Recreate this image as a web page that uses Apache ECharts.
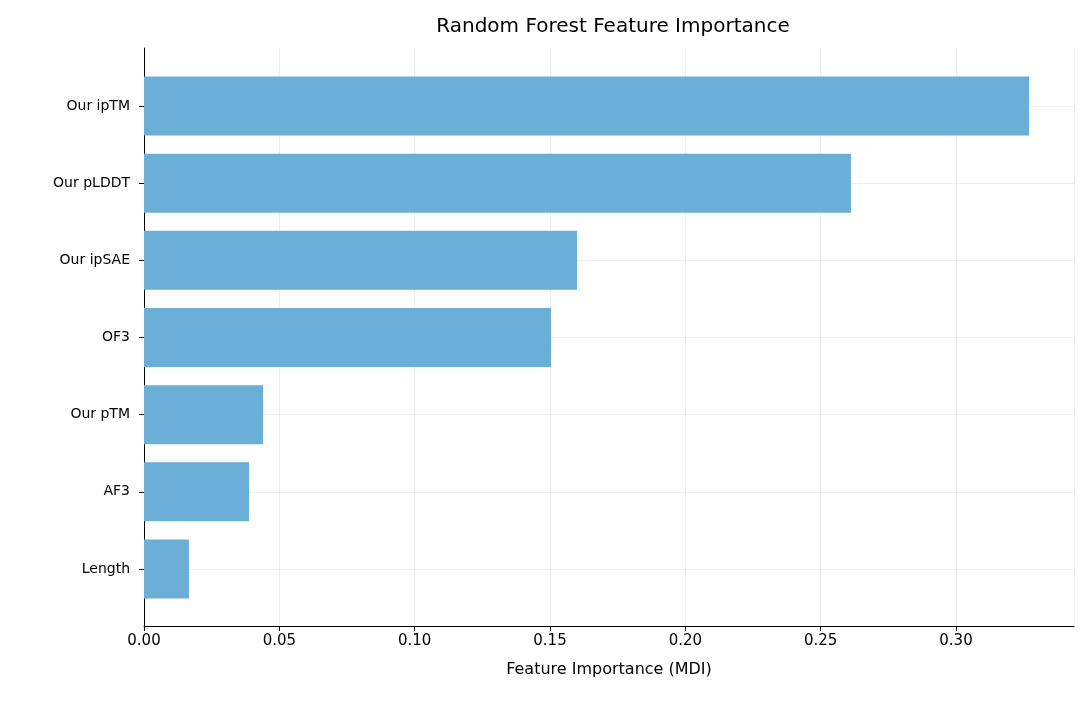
<!DOCTYPE html><html><head><meta charset="utf-8"><script src="https://cdn.jsdelivr.net/npm/echarts@6/dist/echarts.min.js"></script></head><body style="margin:0"><div id="c" style="width:1088px;height:710px"></div><script>
const categories=["Length","AF3","Our pTM","OF3","Our ipSAE","Our pLDDT","Our ipTM"];
const values=[0.0166,0.0388,0.044,0.1504,0.160,0.2612,0.327];
const xTicks=[0,0.05,0.10,0.15,0.20,0.25,0.30];
const ch=echarts.init(document.getElementById('c'));
const f='DejaVu Sans';
ch.setOption({animation:false,
title:{text:'Random Forest Feature Importance',left:608,top:12,textAlign:'center',textStyle:{fontFamily:f,fontSize:20,fontWeight:'normal',color:'#000'}},
grid:[{left:144,right:14,top:48,bottom:84},{left:144,right:14,top:106,bottom:141}],
xAxis:[{gridIndex:0,type:'value',min:0,max:0.3436,interval:0.05,name:'Feature Importance (MDI)',nameLocation:'middle',nameGap:36,nameTextStyle:{fontFamily:f,fontSize:16,color:'#000'},
axisLine:{show:true,lineStyle:{color:'#000'}},axisTick:{show:true,length:5,lineStyle:{color:'#000'}},
axisLabel:{fontFamily:f,fontSize:15,color:'#000',formatter:v=>xTicks.some(t=>Math.abs(t-v)<1e-9)?v.toFixed(2):'' ,showMaxLabel:false},
splitLine:{show:true,lineStyle:{color:'#ececec'}}},
{gridIndex:1,type:'value',min:0,max:0.3436,show:false}],
yAxis:[{gridIndex:0,type:'value',min:0,max:1,axisLine:{show:true,lineStyle:{color:'#000'}},axisTick:{show:false},axisLabel:{show:false},splitLine:{show:false}},
{gridIndex:1,type:'category',data:categories,boundaryGap:false,axisLine:{show:false},axisTick:{show:true,length:5,lineStyle:{color:'#000'}},
axisLabel:{fontFamily:f,fontSize:14,color:'#000',margin:14},splitLine:{show:true,lineStyle:{color:'#f0f0f0'}}}],
series:[{type:'bar',xAxisIndex:1,yAxisIndex:1,data:values,barWidth:59,clip:false,itemStyle:{color:'#6baed6'}}]
});
</script></body></html>
